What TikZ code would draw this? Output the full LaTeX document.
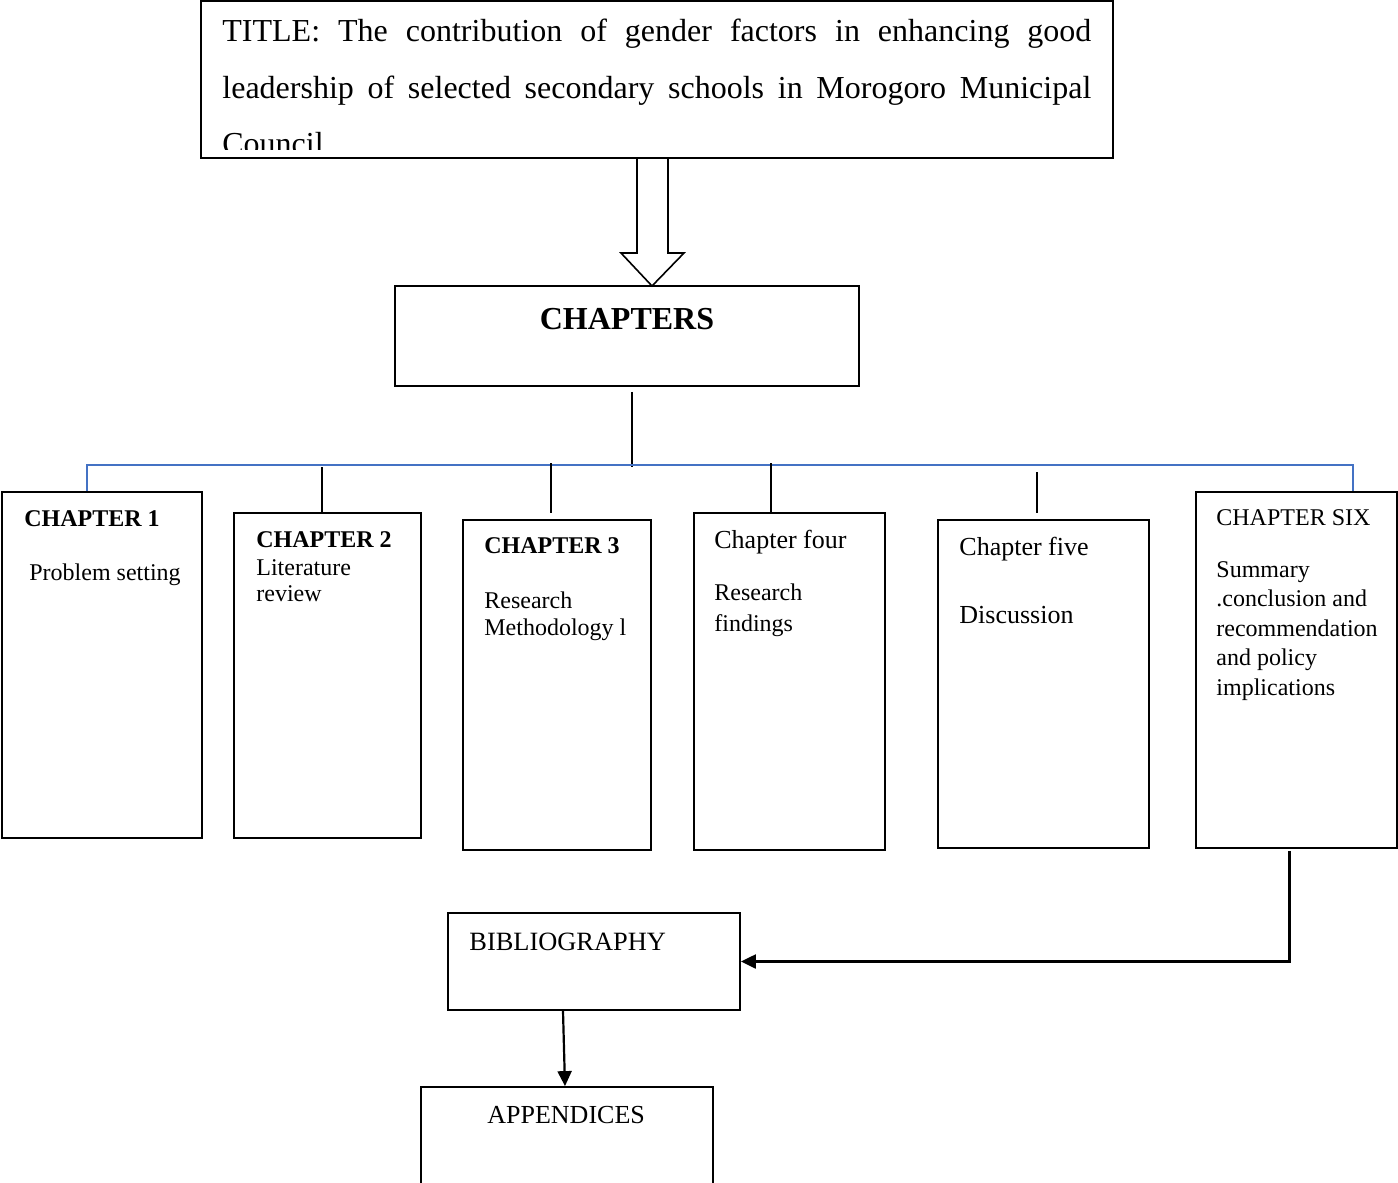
\documentclass[tikz,border=0pt]{standalone}
\usepackage{fontspec}
\setmainfont{Liberation Serif}
\usetikzlibrary{fit,calc,arrows.meta}
\definecolor{busblue}{RGB}{68,114,196}
\begin{document}
\begin{tikzpicture}[x=0.5pt,y=-0.5pt,
  box/.style={draw,line width=0.9pt,inner sep=0pt},
  lbl/.style={anchor=base west,inner sep=0pt},
  bus/.style={draw=busblue,line width=1.1pt},
  link/.style={draw,line width=0.8pt},
  arr/.style={draw,line width=1.1pt,-{Triangle[length=7.5pt,width=7pt]}},
  tsmall/.style={font=\fontsize{12pt}{14pt}\selectfont},
  tsmallb/.style={font=\fontsize{12pt}{14pt}\selectfont\bfseries},
  tmid/.style={font=\fontsize{13pt}{15pt}\selectfont},
  ttitle/.style={font=\fontsize{16pt}{18pt}\selectfont}]
\useasboundingbox (0,0) rectangle (1398,1183);
\fill[white] (0,0) rectangle (1398,1183);

% block arrow (drawn first so the title border stays on top)
\draw[line width=0.8pt,fill=white] (637,158) -- (637,253) -- (621,253) -- (652,286) -- (684,253) -- (668,253) -- (668,158);

% title box
\node[box,fit={(201,1)(1113,158)}] (title) {};
\begin{scope}
\clip (202,2) rectangle (1112,149);
\node[lbl,ttitle] (t1) at (222,41) {\makebox[434.5pt][s]{TITLE: The contribution of gender factors in enhancing good}};
\node[lbl,ttitle] (t2) at (222,98) {\makebox[434.5pt][s]{leadership of selected secondary schools in Morogoro Municipal}};
\node[lbl,ttitle] (t3) at (222,154) {Council};
\end{scope}

% chapters box
\node[box,fit={(395,286)(859,386)}] (chapters) {};
\node[anchor=base,inner sep=0pt,font=\fontsize{16pt}{18pt}\selectfont\bfseries] (chl) at (627,329) {CHAPTERS};

% chapter boxes
\node[box,fit={(2,492)(202,838)}] (c1) {};
\node[box,fit={(234,513)(421,838)}] (c2) {};
\node[box,fit={(463,520)(651,850)}] (c3) {};
\node[box,fit={(694,513)(885,850)}] (c4) {};
\node[box,fit={(938,520)(1149,848)}] (c5) {};
\node[box,fit={(1196,492)(1397,848)}] (c6) {};

% chapter texts
\node[lbl,tsmallb] (c1a) at (24,526) {CHAPTER 1};
\node[lbl,tsmall] (c1b) at (29,580) {Problem setting};

\node[lbl,tsmallb] (c2a) at (256,547) {CHAPTER 2};
\node[lbl,tsmall] (c2b) at (256,575) {Literature};
\node[lbl,tsmall] (c2c) at (256,601) {review};

\node[lbl,tsmallb] (c3a) at (484,553) {CHAPTER 3};
\node[lbl,tsmall] (c3b) at (484,608) {Research};
\node[lbl,tsmall] (c3c) at (484,635) {Methodology l};

\node[lbl,tmid] (c4a) at (714,548) {Chapter four};
\node[lbl,tsmall] (c4b) at (714,600) {Research};
\node[lbl,tsmall] (c4c) at (714,631) {findings};

\node[lbl,tmid] (c5a) at (959,555) {Chapter five};
\node[lbl,tmid] (c5b) at (959,623) {Discussion};

\node[lbl,tsmall] (c6a) at (1216,525) {CHAPTER SIX};
\node[lbl,tsmall] (c6b) at (1216,577) {Summary};
\node[lbl,tsmall] (c6c) at (1216,606) {.conclusion and};
\node[lbl,tsmall] (c6d) at (1216,636) {recommendation};
\node[lbl,tsmall] (c6e) at (1216,665) {and policy};
\node[lbl,tsmall] (c6f) at (1216,695) {implications};

% bibliography & appendices
\node[box,fit={(448,913)(740,1010)}] (bib) {};
\node[lbl,font=\fontsize{13.2pt}{15pt}\selectfont] (bibl) at (469,950) {BIBLIOGRAPHY};
\node[box,fit={(421,1087)(713,1195)}] (app) {};
\node[lbl,tmid] (appl) at (487,1123) {APPENDICES};

% connectors
\coordinate (hub) at (632,467);
\draw[link] ($(chapters.south)+(5,5)$) -- (hub);
\draw[bus] (c1.north -| 87,0) -- (87,465) -- (1353,465) -- (c6.north -| 1353,0);
\draw[link] (322,467) -- (c2.north -| 322,0);
\draw[link] (551,463) -- (551,513);
\draw[link] (771,463) -- (c4.north -| 771,0);
\draw[link] (1037,472) -- (1037,513);

\draw[arr] ($(c6.south)+(-7,2)$) |- (bib.east);
\draw[arr] ($(bib.south)+(-31,0)$) -- ($(app.north)+(-2,0)$);
\end{tikzpicture}
\end{document}
